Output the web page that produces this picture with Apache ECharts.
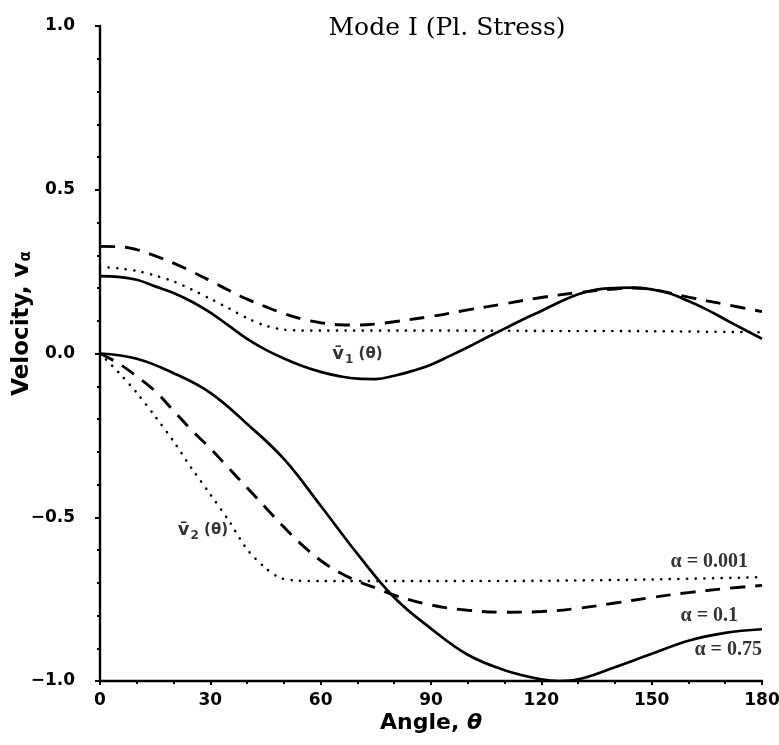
<!DOCTYPE html>
<html>
<head>
<meta charset="utf-8">
<script src="https://cdn.jsdelivr.net/npm/echarts@6/dist/echarts.min.js"></script>
<style>
html,body{margin:0;padding:0;background:#fff;}
#chart{width:779px;height:745px;}
</style>
</head>
<body>
<div id="chart"></div>
<script>
// ---- data (angle θ in degrees, velocity) ----
// upper family: v1(θ)
const v1SolidX = [0, 5, 10, 15, 20, 25, 30, 35, 40, 45, 50, 55, 60, 65, 70, 75, 80, 85, 90, 95, 100, 105, 110, 115, 120, 125, 130, 135, 140, 145, 150, 155, 160, 165, 170, 175, 180];
const v1SolidY = [0.236, 0.234, 0.225, 0.205, 0.185, 0.158, 0.125, 0.085, 0.045, 0.012, -0.015, -0.038, -0.056, -0.069, -0.077, -0.078, -0.068, -0.053, -0.034, -0.008, 0.019, 0.048, 0.076, 0.104, 0.130, 0.157, 0.181, 0.195, 0.200, 0.201, 0.196, 0.183, 0.160, 0.134, 0.104, 0.074, 0.045];

const v1DashX = [0, 5, 10, 15, 20, 25, 30, 35, 40, 45, 50, 55, 60, 65, 70, 75, 80, 90, 100, 110, 120, 130, 140, 145, 150, 160, 170, 180];
const v1DashY = [0.327, 0.326, 0.317, 0.298, 0.276, 0.250, 0.222, 0.193, 0.166, 0.143, 0.122, 0.105, 0.094, 0.088, 0.087, 0.090, 0.097, 0.113, 0.133, 0.152, 0.171, 0.186, 0.197, 0.200, 0.196, 0.172, 0.150, 0.128];

const v1DotX = [0, 5, 10, 15, 20, 25, 30, 35, 40, 45, 50, 55, 60, 90, 120, 150, 180];
const v1DotY = [0.265, 0.260, 0.252, 0.238, 0.220, 0.195, 0.167, 0.138, 0.108, 0.085, 0.073, 0.070, 0.070, 0.070, 0.069, 0.068, 0.065];

// lower family: v2(θ)
const v2SolidX = [0, 10, 20, 30, 40, 50, 60, 70, 80, 90, 100, 110, 120, 125, 130, 140, 150, 160, 170, 180];
const v2SolidY = [0, -0.016, -0.060, -0.120, -0.215, -0.322, -0.465, -0.612, -0.745, -0.840, -0.920, -0.967, -0.995, -1.0, -0.995, -0.958, -0.917, -0.877, -0.853, -0.842];

const v2DashX = [0, 5, 10, 15, 20, 25, 30, 35, 40, 45, 50, 55, 60, 65, 70, 75, 80, 90, 100, 110, 120, 130, 140, 150, 160, 170, 180];
const v2DashY = [0, -0.030, -0.070, -0.115, -0.175, -0.235, -0.290, -0.350, -0.410, -0.470, -0.530, -0.585, -0.632, -0.668, -0.695, -0.716, -0.738, -0.768, -0.784, -0.790, -0.788, -0.778, -0.762, -0.745, -0.730, -0.718, -0.708];

const v2DotX = [0, 5, 10, 15, 20, 25, 30, 35, 40, 45, 49, 53, 60, 90, 120, 150, 180];
const v2DotY = [0, -0.057, -0.120, -0.192, -0.268, -0.352, -0.430, -0.510, -0.598, -0.655, -0.685, -0.693, -0.695, -0.695, -0.694, -0.690, -0.683];

const xTicks = [0, 30, 60, 90, 120, 150, 180];
const yTicks = [-1.0, -0.5, 0.0, 0.5, 1.0];

// annotation texts and anchors (data coordinates)
const noteX = [70, 28, 176.2, 173.5, 180];
const noteY = [-0.003, -0.54, -0.636, -0.80, -0.905];
const noteText = [
  '{ov|v\u0304}{sub|1}{t| (θ)}',
  '{ov|v\u0304}{sub|2}{t| (θ)}',
  'α = 0.001',
  'α = 0.1',
  'α = 0.75'
];
const noteAlign = ['center', 'center', 'right', 'right', 'right'];

function pairs(xs, ys){ return xs.map((x,i)=>[x, ys[i]]); }

const chart = echarts.init(document.getElementById('chart'), null, {renderer:'canvas'});

const solid = {color:'#000', width:2.7, type:'solid'};
const dash  = {color:'#000', width:2.9, type:[15, 10]};
const dot   = {color:'#000', width:2.6, type:[0.1, 8.5], cap:'round'};

function line(name, data, style, smooth){
  return {name, type:'line', data, showSymbol:false, smooth: smooth,
    lineStyle: style, animation:false, z:3};
}

const option = {
  backgroundColor:'#fff',
  animation:false,
  title:{
    text:'Mode I (Pl. Stress)',
    left: 442, top: 11, textAlign:'center',
    textStyle:{fontFamily:'DejaVu Serif', fontWeight:'normal', fontSize:25, color:'#000'}
  },
  grid:{left:100, right:17, top:26, bottom:64, containLabel:false, outerBoundsMode:'none'},
  xAxis:{
    type:'value', min:0, max:180, interval:30,
    name:'Angle, {it|θ}', nameLocation:'middle', nameGap:31, nameMoveOverlap:false,
    nameTextStyle:{fontFamily:'DejaVu Sans', fontWeight:'bold', fontSize:22, color:'#000',
      rich:{it:{fontFamily:'DejaVu Sans', fontWeight:'bold', fontStyle:'italic', fontSize:22, color:'#000'}}},
    axisLine:{onZero:false, lineStyle:{color:'#000', width:2.4}},
    axisTick:{show:true, length:4, lineStyle:{color:'#000', width:2}},
    minorTick:{show:true, splitNumber:3, length:3, lineStyle:{color:'#000', width:2}},
    axisLabel:{margin:11, fontFamily:'DejaVu Sans', fontWeight:'bold', fontSize:17, color:'#000',
      formatter:(v)=> xTicks.includes(v) ? String(v) : ''},
    splitLine:{show:false}
  },
  yAxis:{
    type:'value', min:-1.0, max:1.0, interval:0.5,
    name:'Velocity, v{sub|α}', nameLocation:'middle', nameGap:66, nameMoveOverlap:false,
    nameTextStyle:{fontFamily:'DejaVu Sans', fontWeight:'bold', fontSize:23, color:'#000', padding:[0,0,0,60],
      rich:{sub:{fontFamily:'DejaVu Sans', fontWeight:'bold', fontSize:15, color:'#000', padding:[9,0,0,1]}}},
    axisLine:{onZero:false, lineStyle:{color:'#000', width:2.4}},
    axisTick:{show:true, length:5, lineStyle:{color:'#000', width:2}},
    minorTick:{show:true, splitNumber:5, length:3, lineStyle:{color:'#000', width:2}},
    axisLabel:{margin:25, fontFamily:'DejaVu Sans', fontWeight:'bold', fontSize:17, color:'#000',
      formatter:(v)=>{ const t = yTicks.find(a=>Math.abs(a-v)<1e-9); return t===undefined ? '' : (t<0 ? '\u2212'+Math.abs(t).toFixed(1) : t.toFixed(1)); }},
    splitLine:{show:false}
  },
  series:[
    line('v1 α=0.75', pairs(v1SolidX, v1SolidY), solid, 0.4),
    line('v1 α=0.1', pairs(v1DashX, v1DashY), dash, 0.4),
    line('v1 α=0.001', pairs(v1DotX, v1DotY), dot, 0.3),
    line('v2 α=0.75', pairs(v2SolidX, v2SolidY), solid, 0.4),
    line('v2 α=0.1', pairs(v2DashX, v2DashY), dash, 0.4),
    line('v2 α=0.001', pairs(v2DotX, v2DotY), dot, 0.3),
    {
      type:'scatter', symbolSize:0, animation:false, silent:true, z:5, clip:false,
      data: noteX.map((x,i)=>({value:[x, noteY[i]], label:{align:noteAlign[i]}})),
      label:{
        show:true, position:'inside', color:'#000',
        formatter:(p)=> noteText[p.dataIndex],
        fontFamily:'Liberation Serif', fontWeight:'bold', fontSize:20,
        rich:{
          ov:{fontFamily:'DejaVu Sans', fontWeight:'bold', fontSize:18, color:'#000'},
          sub:{fontFamily:'DejaVu Sans', fontWeight:'bold', fontSize:12, color:'#000', padding:[11,0,0,1]},
          t:{fontFamily:'DejaVu Sans', fontWeight:'bold', fontSize:15, color:'#000'}
        }
      }
    }
  ]
};
chart.setOption(option);
</script>
</body>
</html>
